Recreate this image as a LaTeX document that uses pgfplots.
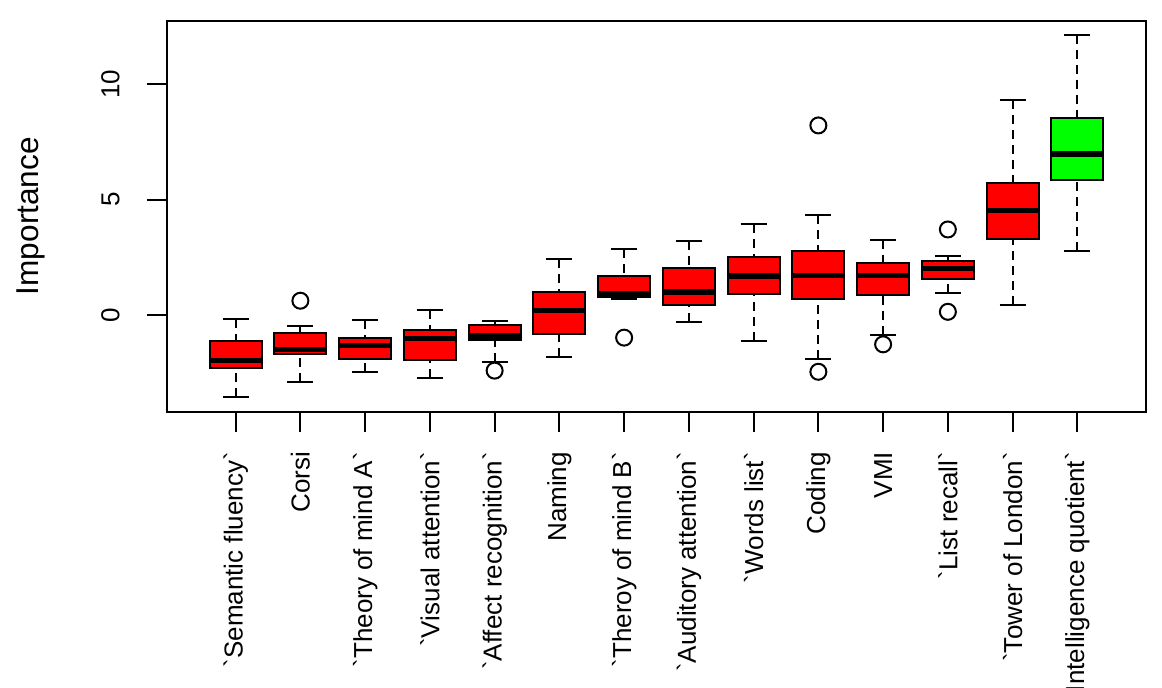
\documentclass[border=0pt]{standalone}
\usepackage{fontspec}
\setmainfont{Liberation Sans}
\usepackage{pgfplots}
\usepgfplotslibrary{statistics}
\pgfplotsset{compat=1.18}

\definecolor{boxred}{RGB}{255,0,0}
\definecolor{boxgreen}{RGB}{0,255,0}
\newcommand{\bq}{\textasciigrave}

\pgfplotsset{
  % R style whiskers: dashed stem, solid cap
  boxplot/draw/lower whisker/.code={%
    \draw[/pgfplots/boxplot/every whisker/.try, dash pattern=on 4.5pt off 3pt]
      (boxplot cs:\pgfplotsboxplotvalue{lower whisker})
      -- (boxplot cs:\pgfplotsboxplotvalue{lower quartile});
    \draw[/pgfplots/boxplot/every whisker/.try]
      (boxplot whisker cs:\pgfplotsboxplotvalue{lower whisker},0)
      -- (boxplot whisker cs:\pgfplotsboxplotvalue{lower whisker},1);
  },
  boxplot/draw/upper whisker/.code={%
    \draw[/pgfplots/boxplot/every whisker/.try, dash pattern=on 4.5pt off 3pt]
      (boxplot cs:\pgfplotsboxplotvalue{upper whisker})
      -- (boxplot cs:\pgfplotsboxplotvalue{upper quartile});
    \draw[/pgfplots/boxplot/every whisker/.try]
      (boxplot whisker cs:\pgfplotsboxplotvalue{upper whisker},0)
      -- (boxplot whisker cs:\pgfplotsboxplotvalue{upper whisker},1);
  },
  boxplot/every median/.style={line width=2.6pt},
  rbase/.style={draw=black, line width=1pt, solid,
    mark=o, mark size=4pt, mark options={solid, line width=1pt, draw=black}},
  rbox/.style={rbase, boxplot/every box/.style={fill=boxred},
    boxplot prepared={#1, box extend=0.8, whisker extend=0.4}},
  gbox/.style={rbase, boxplot/every box/.style={fill=boxgreen},
    boxplot prepared={#1, box extend=0.8, whisker extend=0.4}},
}

\begin{document}
\begin{tikzpicture}
  \begin{axis}[
    at={(0,0)}, anchor=south west,
    scale only axis,
    width=489.5pt, height=195.5pt,
    xmin=-0.06, xmax=15.06,
    ymin=-4.19, ymax=12.76,
    boxplot/draw direction=y,
    axis line style={line width=1pt},
    tick style={line width=1pt, black},
    tick align=outside, major tick length=10pt,
    tick pos=left,
    xtick={1,...,14},
    xticklabels={\bq Semantic fluency\bq, Corsi, \bq Theory of mind A\bq,
      \bq Visual attention\bq, \bq Affect recognition\bq, Naming,
      \bq Theroy of mind B\bq, \bq Auditory attention\bq, \bq Words list\bq,
      Coding, VMI, \bq List recall\bq, \bq Tower of London\bq,
      \bq Intelligence quotient\bq},
    ytick={0,5,10},
    /pgf/number format/assume math mode=true,
    tick label style={font=\fontsize{13pt}{15pt}\selectfont, inner sep=0pt},
    xticklabel style={rotate=90, anchor=east},
    xticklabel shift=10pt,
    yticklabel style={rotate=90, anchor=south},
    yticklabel shift=13.5pt,
    ylabel={Importance},
    every axis y label/.style={at={(axis description cs:-0.139,0.5)},
      rotate=90, anchor=center, font=\fontsize{15.8pt}{18pt}\selectfont},
  ]
    % 1 Semantic fluency
    \addplot[rbox={lower whisker=-3.57, lower quartile=-2.31, median=-1.98,
      upper quartile=-1.11, upper whisker=-0.19, draw position=1}] coordinates {};
    % 2 Corsi
    \addplot[rbox={lower whisker=-2.89, lower quartile=-1.68, median=-1.50,
      upper quartile=-0.77, upper whisker=-0.46, draw position=2}]
      table[row sep=\\, y index=0] {data\\ 0.62\\};
    % 3 Theory of mind A
    \addplot[rbox={lower whisker=-2.48, lower quartile=-1.91, median=-1.33,
      upper quartile=-1.01, upper whisker=-0.22, draw position=3}] coordinates {};
    % 4 Visual attention
    \addplot[rbox={lower whisker=-2.72, lower quartile=-1.96, median=-1.01,
      upper quartile=-0.65, upper whisker=0.22, draw position=4}] coordinates {};
    % 5 Affect recognition
    \addplot[rbox={lower whisker=-2.02, lower quartile=-1.08, median=-0.91,
      upper quartile=-0.42, upper whisker=-0.25, draw position=5}]
      table[row sep=\\, y index=0] {data\\ -2.41\\};
    % 6 Naming
    \addplot[rbox={lower whisker=-1.81, lower quartile=-0.82, median=0.19,
      upper quartile=0.98, upper whisker=2.41, draw position=6}] coordinates {};
    % 7 Theroy of mind B
    \addplot[rbox={lower whisker=0.71, lower quartile=0.79, median=0.94,
      upper quartile=1.69, upper whisker=2.86, draw position=7}]
      table[row sep=\\, y index=0] {data\\ -0.98\\};
    % 8 Auditory attention
    \addplot[rbox={lower whisker=-0.30, lower quartile=0.42, median=1.00,
      upper quartile=2.05, upper whisker=3.22, draw position=8}] coordinates {};
    % 9 Words list
    \addplot[rbox={lower whisker=-1.11, lower quartile=0.92, median=1.69,
      upper quartile=2.51, upper whisker=3.94, draw position=9}] coordinates {};
    % 10 Coding
    \addplot[rbox={lower whisker=-1.91, lower quartile=0.69, median=1.72,
      upper quartile=2.79, upper whisker=4.32, draw position=10}]
      table[row sep=\\, y index=0] {data\\ 8.22\\ -2.46\\};
    % 11 VMI
    \addplot[rbox={lower whisker=-0.87, lower quartile=0.88, median=1.72,
      upper quartile=2.27, upper whisker=3.25, draw position=11}]
      table[row sep=\\, y index=0] {data\\ -1.27\\};
    % 12 List recall
    \addplot[rbox={lower whisker=0.94, lower quartile=1.57, median=2.01,
      upper quartile=2.33, upper whisker=2.54, draw position=12}]
      table[row sep=\\, y index=0] {data\\ 3.71\\ 0.14\\};
    % 13 Tower of London
    \addplot[rbox={lower whisker=0.43, lower quartile=3.29, median=4.54,
      upper quartile=5.74, upper whisker=9.31, draw position=13}] coordinates {};
    % 14 Intelligence quotient
    \addplot[gbox={lower whisker=2.77, lower quartile=5.85, median=6.98,
      upper quartile=8.53, upper whisker=12.16, draw position=14}] coordinates {};
  \end{axis}
  \pgfresetboundingbox
  \useasboundingbox (-83.5pt,-138.15pt) rectangle (497.5pt,205.85pt);
\end{tikzpicture}
\end{document}
